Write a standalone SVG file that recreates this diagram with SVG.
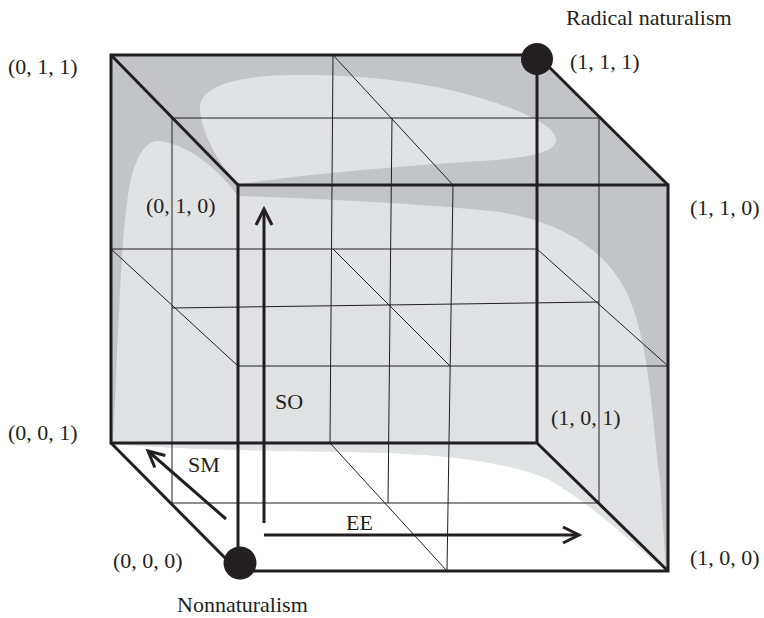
<svg xmlns="http://www.w3.org/2000/svg" width="764" height="618" viewBox="0 0 764 618">
  <style>
    .lbl { font-family: "Liberation Serif", "Times New Roman", serif; font-size: 22px; fill: #231f20; }
    .thick { fill: none; stroke: #231f20; stroke-width: 3; stroke-linejoin: miter; }
    .thin { fill: none; stroke: #231f20; stroke-width: 1; }
    .arrow { fill: none; stroke: #231f20; stroke-width: 3; }
    .dot { fill: #231f20; }
  </style>
  <defs>
    <marker id="chev" markerUnits="userSpaceOnUse" viewBox="-20 -12 24 24" refX="0" refY="0" markerWidth="24" markerHeight="24" orient="auto">
      <path d="M -16,-8 L 0,0 L -16,8" fill="none" stroke="#231f20" stroke-width="3"/>
    </marker>
  </defs>

  <g id="shading">
    <path d="M 111,55 L 537,55 L 668,185 L 668,571 L 238,571 L 111,443 Z" fill="#c3c4c8"/>
    <path d="M 113,444 C 118,350 120,250 128,195 C 133,160 145,140 158,141 C 185,143 215,165 238,196 C 300,198 420,203 500,212 C 560,222 610,250 630,300 C 650,350 652,420 660,480 L 666,571 C 640,550 600,510 550,480 C 500,458 420,453 350,452 C 250,451 160,448 113,444 Z" fill="#e1e2e4"/>
    <path d="M 666,571 C 640,550 600,510 550,480 C 500,458 420,453 350,452 C 250,451 160,448 113,444 L 112,445 L 238,571 Z" fill="#ffffff"/>
    <path d="M 200,110 C 198,85 240,76 290,75 C 360,74 430,82 480,98 C 520,110 556,125 556,140 C 556,152 530,158 480,161 C 400,166 300,175 240,184 C 222,170 202,135 200,110 Z" fill="#e1e2e4"/>
  </g>

  <g id="grid">
    <polygon class="thin" points="172,118 599,118 599,503 172,503"/>
    <line class="thin" x1="333" y1="55" x2="330" y2="443"/>
    <line class="thin" x1="392" y1="118" x2="388" y2="503"/>
    <line class="thin" x1="453" y1="185" x2="447" y2="571"/>
    <line class="thin" x1="333" y1="55" x2="453" y2="185"/>
    <line class="thin" x1="330" y1="443" x2="447" y2="571"/>
    <line class="thin" x1="111" y1="249" x2="537" y2="249"/>
    <line class="thin" x1="172" y1="308" x2="599" y2="302"/>
    <line class="thin" x1="238" y1="366" x2="668" y2="366"/>
    <line class="thin" x1="111" y1="249" x2="238" y2="366"/>
    <line class="thin" x1="537" y1="249" x2="668" y2="366"/>
    <line class="thin" x1="333" y1="249" x2="450" y2="366"/>
  </g>

  <g id="cube-edges">
    <polygon class="thick" points="111,55 537,55 537,443 111,443"/>
    <polygon class="thick" points="238,185 668,185 668,571 238,571"/>
    <line class="thick" x1="111" y1="55" x2="238" y2="185"/>
    <line class="thick" x1="537" y1="55" x2="668" y2="185"/>
    <line class="thick" x1="111" y1="443" x2="238" y2="571"/>
    <line class="thick" x1="537" y1="443" x2="668" y2="571"/>
  </g>

  <g id="connectors">
    <line class="arrow" x1="264" y1="523" x2="264" y2="209" marker-end="url(#chev)"/>
    <line class="arrow" x1="264" y1="535" x2="579" y2="535" marker-end="url(#chev)"/>
    <line class="arrow" x1="226" y1="519" x2="148" y2="451" marker-end="url(#chev)"/>
    <text class="lbl" x="275" y="409">SO</text>
    <text class="lbl" x="188" y="472">SM</text>
    <text class="lbl" x="346" y="530">EE</text>
  </g>

  <g id="node-111">
    <circle class="dot" cx="537" cy="59" r="16"/>
    <text class="lbl" x="570" y="69">(1, 1, 1)</text>
    <text class="lbl" x="566" y="25">Radical naturalism</text>
  </g>
  <g id="node-000">
    <circle class="dot" cx="240" cy="563" r="16.5"/>
    <text class="lbl" x="113" y="568">(0, 0, 0)</text>
    <text class="lbl" x="177" y="612">Nonnaturalism</text>
  </g>
  <g id="node-011"><text class="lbl" x="8" y="74">(0, 1, 1)</text></g>
  <g id="node-010"><text class="lbl" x="146" y="213">(0, 1, 0)</text></g>
  <g id="node-110"><text class="lbl" x="690" y="215">(1, 1, 0)</text></g>
  <g id="node-001"><text class="lbl" x="8" y="440">(0, 0, 1)</text></g>
  <g id="node-101"><text class="lbl" x="551" y="425">(1, 0, 1)</text></g>
  <g id="node-100"><text class="lbl" x="690" y="565">(1, 0, 0)</text></g>
</svg>
